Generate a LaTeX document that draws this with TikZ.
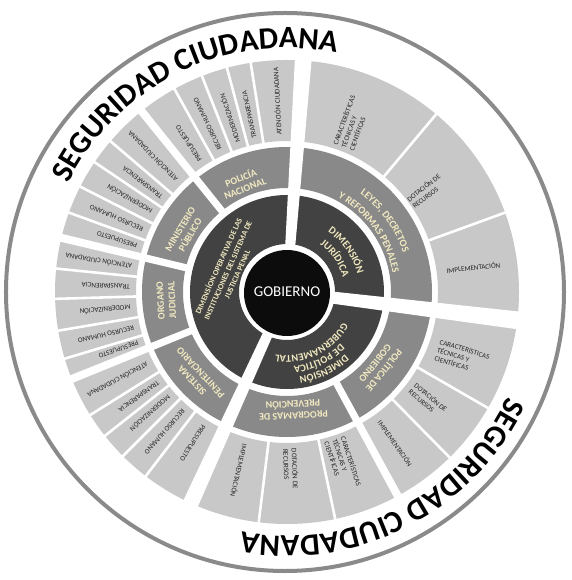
\documentclass[tikz,border=0pt]{standalone}
\usepackage{fontspec}
\setmainfont{Carlito}
\usetikzlibrary{decorations.text}
\definecolor{lightc}{HTML}{C8C8C8}
\definecolor{medc}{HTML}{898989}
\definecolor{darkc}{HTML}{424242}
\definecolor{blackc}{HTML}{0C0C0C}
\definecolor{cream}{HTML}{F1E9C0}
\definecolor{ringc}{HTML}{8A8A8A}
\definecolor{smallc}{HTML}{262626}
\newcommand\wband[5]{\fill[white,rotate=#1] (#2,{-(#4)/2}) -- (#3,{-(#5)/2}) -- (#3,{(#5)/2}) -- (#2,{(#4)/2}) -- cycle;}
\newcommand\arctext[5]{\path[decorate, decoration={text along path, text align=center, text color=cream, text={|\bfseries\fontsize{#4}{#4}\selectfont|#5}}] (#2:#1) arc[start angle=#2, end angle=#3, radius=#1];}
\begin{document}
\begin{tikzpicture}[x=1pt,y=1pt,
  lab/.style={text=smallc, font=\fontsize{7.1}{7.9}\selectfont, inner sep=0pt},
  jlab/.style={text=smallc, font=\fontsize{7.1}{8.6}\selectfont, inner sep=0pt, align=left},
  mlab/.style={text=cream, font=\bfseries\fontsize{10}{11.5}\selectfont, align=center, inner sep=0pt},
]
\useasboundingbox (-287,-288) rectangle (284,292);
\fill[white] (-287,-288) rectangle (284,292);
\draw[ringc, line width=4] (-2,0) circle (279);
% rings
\fill[lightc, even odd rule] (0,0) circle (232) (0,0) circle (151);
\fill[medc, even odd rule] (0,0) circle (145) (0,0) circle (104);
\fill[darkc, even odd rule] (0,0) circle (97) (0,0) circle (48);
\fill[blackc] (0,-1) circle (43);
% main gaps
\wband{86}{45}{240}{10}{17}
\wband{-7}{45}{240}{12}{18}
\wband{-114.5}{45}{240}{10}{16}
% group gaps
\foreach \a in {128.8,166.5,202,-61.5} {\wband{\a}{100}{240}{7}{8}}
% thin dividers
\foreach \a in {99,105,111.5,119,139.5,146,153,160,174.2,181.7,189.6,196.7,212,218.3,225,232.5,50,20,-30,-45.5,-78,-97}
  {\draw[white, line width=2.6] (\a:148) -- (\a:236);}
% operative light labels
\foreach \a/\t [count=\i] in {93/ATENCIÓN CIUDADANA,102/TRANSPARENCIA,108.3/MODERNIZACIÓN,115.3/RECURSO HUMANO,123.5/PRESUPUESTO,
  134.8/ATENCIÓN CIUDADANA,142.8/TRANSPARENCIA,149.5/MODERNIZACIÓN,156.5/RECURSO HUMANO,162.8/PRESUPUESTO,
  170.8/ATENCIÓN CIUDADANA,178/TRANSPARENCIA,185.6/MODERNIZACIÓN,193.2/RECURSO HUMANO,198.8/PRESUPUESTO,
  207.5/ATENCIÓN CIUDADANA,215.2/TRANSPARENCIA,221.6/MODERNIZACIÓN,228.8/RECURSO HUMANO,238/PRESUPUESTO}
  {\node[lab, rotate=\a, anchor=west] (op\i) at (\a:157) {\t};}
% juridica / politica / programas light labels
\node[jlab, rotate=70] (j1) at (69:181) {CARACTERÍSTICAS\\TÉCNICAS Y\\CIENTÍFICAS};
\node[jlab, rotate=38] (j2) at (36:172) {DOTACIÓN DE\\RECURSOS};
\node[jlab, rotate=6] (j3) at (7.5:188) {IMPLEMENTACIÓN};
\node[jlab, rotate=-17] (p1) at (-20.4:187) {CARACTERÍSTICAS\\TÉCNICAS Y\\CIENTÍFICAS};
\node[jlab, rotate=-40] (p2) at (-37.5:178) {DOTACIÓN DE\\RECURSOS};
\node[jlab, rotate=-55] (p3) at (-54.4:186) {IMPLEMENTACIÓN};
\node[jlab, rotate=-72] (g1) at (-71.9:181) {CARACTERÍSTICAS\\TÉCNICAS Y\\CIENTÍFICAS};
\node[jlab, rotate=-88] (g2) at (-88.7:177) {DOTACIÓN DE\\RECURSOS};
\node[jlab, rotate=-103] (g3) at (-105:185) {IMPLEMENTACIÓN};
% medium ring labels
\arctext{122.5}{76}{-4}{10.3}{LEYES, DECRETOS}
\arctext{107.3}{76}{-4}{10.3}{Y REFORMAS PENALES}
\node[mlab, rotate=21] (m1) at (112:118) {POLICÍA\\NACIONAL};
\node[mlab, rotate=59.5] (m2) at (149.5:118) {MINISTERIO\\PÚBLICO};
\node[mlab, rotate=93] (m3) at (184:121) {ORGANO\\JUDICIAL};
\node[mlab, rotate=133] (m4) at (223:124) {SISTEMA\\PENITENCIARIO};
\node[mlab, rotate=-129] (m5) at (-39:120) {POLÍTICA DE\\GOBIERNO};
\node[mlab, rotate=183] (m6) at (-87:118) {PROGRAMAS DE\\PREVENCIÓN};
% dark ring labels
\arctext{72.6}{85}{-15}{10.5}{DIMENSIÓN}
\arctext{57.6}{85}{-15}{10.5}{JURÍDICA}
\arctext{85.5}{-4.5}{-124.5}{10.3}{DIMENSIÓN}
\arctext{74.5}{-4.5}{-124.5}{10.3}{DE POLÍTICA}
\arctext{63.5}{-4.5}{-124.5}{10.3}{GUBERNAMENTAL}
\node[text=cream, font=\bfseries\fontsize{8}{10.2}\selectfont, align=center, inner sep=0pt, rotate=66] (op) at (-59.5,22)
  {DIMENSÍON OPERATIVA DE LAS\\INSTITUCIONES DEL SISTEMA DE\\JUSTICIA PENAL};
% centre
\node[text=white, font=\fontsize{15}{15}\selectfont, inner sep=0pt] (gob) at (0,0) {GOBIERNO};
% outer titles
\path[decorate, decoration={text along path, text align=center, text={|\bfseries\fontsize{31}{31}\selectfont|SEGURIDAD CIUDADANA}}] (176:244) arc[start angle=176, end angle=56, radius=244];
\path[decorate, decoration={text along path, text align=center, text={|\bfseries\fontsize{31}{31}\selectfont|SEGURIDAD CIUDADANA}}] (-3:244) arc[start angle=-3, end angle=-123, radius=244];
\end{tikzpicture}
\end{document}
